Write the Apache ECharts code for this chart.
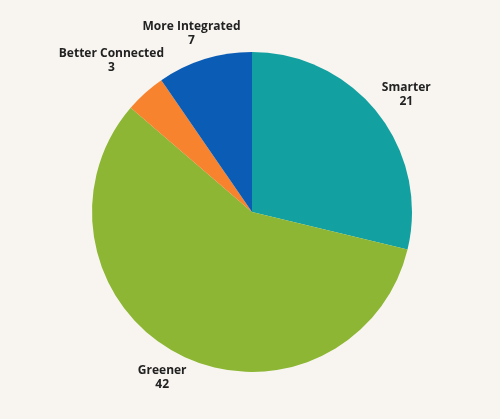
<!DOCTYPE html>
<html>
<head>
<meta charset="utf-8">
<script src="https://cdn.jsdelivr.net/npm/echarts@6/dist/echarts.min.js"></script>
<style>
html,body{margin:0;padding:0;background:#f8f5f0;}
#chart{width:500px;height:419px;}
</style>
</head>
<body>
<div id="chart"></div>
<script>
var categories = ['Smarter', 'Greener', 'Better Connected', 'More Integrated'];
var values = [21, 42, 3, 7];

// styling (not data)
var colors = ['#12a0a0', '#8cb633', '#f7832f', '#0b5cb4'];
var labelDistance = [30, 26, 43, 27];

var chart = echarts.init(document.getElementById('chart'));
chart.setOption({
  backgroundColor: '#f8f5f0',
  animation: false,
  series: [{
    type: 'pie',
    center: [252, 212],
    radius: [0, 160],
    startAngle: 90,
    clockwise: true,
    avoidLabelOverlap: false,
    data: categories.map(function (c, i) {
      return {
        name: c,
        value: values[i],
        itemStyle: { color: colors[i] },
        labelLine: { show: false, length: labelDistance[i], length2: 0 }
      };
    }),
    label: {
      show: true,
      position: 'outside',
      formatter: '{b}\n{c}',
      fontFamily: 'Open Sans',
      fontWeight: 'bold',
      fontSize: 12,
      lineHeight: 14,
      color: '#222222',
      align: 'center'
    },
    labelLine: { show: false, length: 26, length2: 0 },
    labelLayout: { align: 'center', hideOverlap: false, moveOverlap: false },
    emphasis: { disabled: true }
  }]
});
</script>
</body>
</html>
